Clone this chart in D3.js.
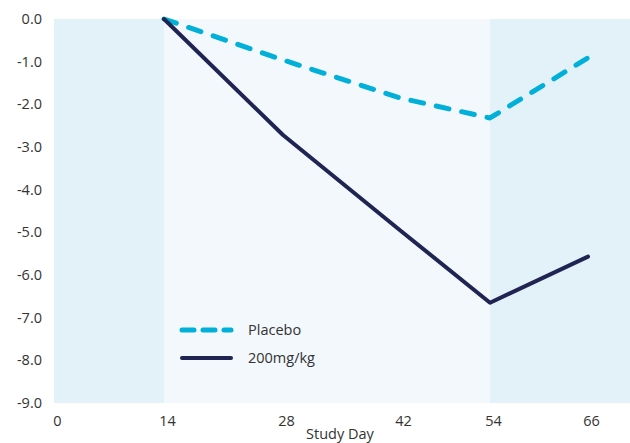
<!DOCTYPE html>
<html><head><meta charset="utf-8">
<script src="https://cdn.jsdelivr.net/npm/d3@7"></script>
<style>body{margin:0;background:#fff;} svg{display:block;font-family:"Open Sans","Noto Sans",sans-serif;}</style>
</head><body>
<svg id="c" width="630" height="443"></svg>
<script>
const days = [14, 28, 42, 54, 66];
const placebo = [0, -0.96, -1.85, -2.32, -0.91];
const dose200 = [0, -2.72, -4.95, -6.65, -5.57];
const xTicks = [0, 14, 28, 42, 54, 66];
const yTicks = [0, -1, -2, -3, -4, -5, -6, -7, -8, -9];
const bands = [[0, 14, "#e3f2f8"], [14, 54, "#f2f8fb"], [54, 73, "#e3f2f8"]];

(function(){
const svg = d3.select("#c");
const mL = 54, mR = 630, mT = 19, mB = 403;
// tick slots are unevenly spaced in the reference
const x = d3.scaleLinear().domain([0, 14, 28, 42, 54, 66, 73]).range([mL, 164, 283, 400, 490, 588, mR]);
const y = d3.scaleLinear().domain([0, -9]).range([mT, mB]);

svg.selectAll("rect.band").data(bands).join("rect")
  .attr("x", d => x(d[0])).attr("width", d => x(d[1]) - x(d[0]))
  .attr("y", mT).attr("height", mB - mT).attr("fill", d => d[2]);

const fmt = d => d3.format(".1f")(d).replace("−", "-");
const yAxis = d3.axisLeft(y).tickValues(yTicks).tickFormat(fmt).tickSize(0).tickPadding(12);
const ga = svg.append("g").attr("transform", `translate(${mL},0)`).call(yAxis);
ga.select(".domain").remove();
ga.selectAll("text").attr("font-size", 14.5).attr("fill", "#333").attr("font-family", "'Open Sans',sans-serif");

const xAxis = d3.axisBottom(x).tickValues(xTicks).tickFormat(d => d).tickSize(0).tickPadding(13);
const gx = svg.append("g").attr("transform", `translate(3,${mB})`).call(xAxis);
gx.select(".domain").remove();
gx.selectAll("text").attr("font-size", 14.5).attr("fill", "#333").attr("font-family", "'Open Sans',sans-serif");

svg.append("text").attr("x", 340).attr("y", 439).attr("text-anchor", "middle")
  .attr("font-size", 14.5).attr("fill", "#333").text("Study Day");

const line = d3.line().x((d, i) => x(days[i])).y(d => y(d));
svg.append("path").datum(placebo).attr("d", line).attr("fill", "none")
  .attr("stroke", "#00b0d8").attr("stroke-width", 5).attr("stroke-linecap", "round").attr("stroke-linejoin", "round")
  .attr("stroke-dasharray", "13 13");
svg.append("path").datum(dose200).attr("d", line).attr("fill", "none")
  .attr("stroke", "#1f2452").attr("stroke-width", 4).attr("stroke-linecap", "round").attr("stroke-linejoin", "round");

const legend = [["Placebo", "#00b0d8", "12 9", 5], ["200mg/kg", "#1f2452", null, 4]];
const lg = svg.append("g");
legend.forEach((l, i) => {
  const yy = 330 + i * 28;
  lg.append("line").attr("x1", 182).attr("x2", 231).attr("y1", yy).attr("y2", yy)
    .attr("stroke", l[1]).attr("stroke-width", l[3]).attr("stroke-linecap", "round")
    .attr("stroke-dasharray", l[2]);
  lg.append("text").attr("x", 248).attr("y", yy + 5).attr("font-size", 14.5).attr("fill", "#333").text(l[0]);
});
})();
</script>
</body></html>
